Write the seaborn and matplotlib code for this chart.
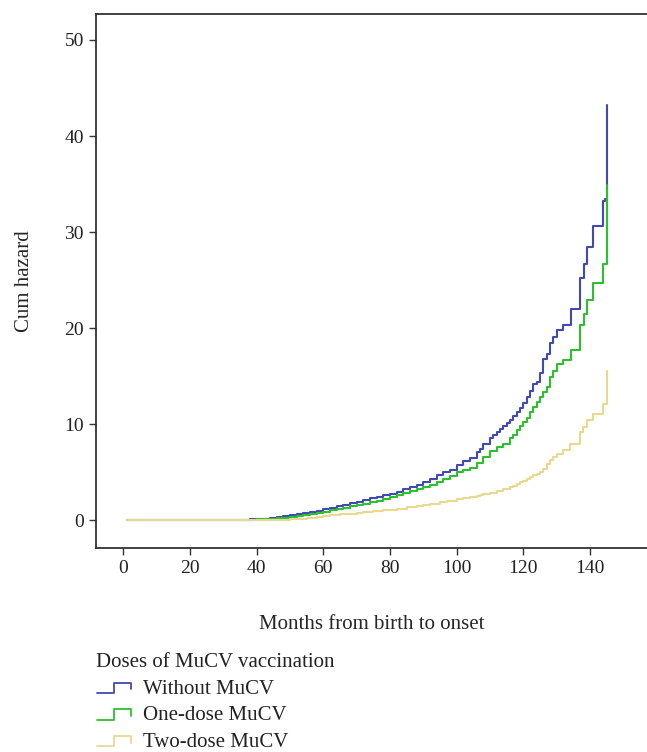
import numpy as np
import pandas as pd
import matplotlib
matplotlib.use("Agg")
import matplotlib.pyplot as plt
import seaborn as sns
from matplotlib.legend_handler import HandlerBase
from matplotlib.lines import Line2D

# ---- data ----
groups = ["Without MuCV", "One-dose MuCV", "Two-dose MuCV"]

t_without = [1, 35, 38, 40, 42, 44, 46, 48, 50, 52, 54, 56, 58, 60, 62, 64, 66, 68, 70, 72, 74, 76, 78,
             80, 82, 84, 86, 88, 90, 92, 94, 96, 98, 100, 102, 104, 106, 107, 108, 110, 111, 112, 113,
             114, 115, 116, 117, 118, 119, 120, 121, 122, 123, 124, 125, 126, 127, 128, 129, 130.2,
             132, 134.2, 137, 138.2, 139, 141, 144, 144.5, 145]
h_without = [0.03, 0.07, 0.12, 0.17, 0.2, 0.26, 0.33, 0.42, 0.52, 0.62, 0.78, 0.9, 1.03, 1.15, 1.3, 1.45,
             1.6, 1.78, 1.95, 2.1, 2.3, 2.45, 2.6, 2.8, 3.0, 3.3, 3.5, 3.7, 4.0, 4.3, 4.7, 5.0, 5.3, 5.8,
             6.2, 6.5, 7.1, 7.4, 8.0, 8.6, 8.9, 9.2, 9.5, 9.8, 10.1, 10.5, 10.9, 11.3, 11.7, 12.2, 12.8,
             13.5, 14.2, 14.4, 15.3, 16.8, 17.3, 18.5, 19.1, 19.8, 20.3, 22.0, 25.2, 26.7, 28.5, 30.6,
             33.2, 33.4, 43.2]

t_one = [1, 35, 40, 44, 46, 48, 50, 52, 54, 56, 58, 60, 62, 64, 66, 68, 70, 72, 74, 76, 78, 80, 82, 84,
         86, 88, 90, 92, 94, 96, 98, 100, 102, 104, 106, 108, 110, 112, 114, 116, 117, 118, 119, 120,
         121, 122, 123, 124, 125, 126, 127, 128, 129, 130.2, 132, 134.2, 137, 138.2, 139, 141, 144, 145]
h_one = [0.03, 0.06, 0.1, 0.15, 0.22, 0.3, 0.38, 0.46, 0.55, 0.68, 0.8, 0.92, 1.05, 1.15, 1.28, 1.45,
         1.6, 1.75, 1.9, 2.05, 2.25, 2.4, 2.6, 2.85, 3.05, 3.25, 3.45, 3.7, 4.0, 4.3, 4.6, 5.0, 5.3,
         5.5, 6.0, 6.6, 7.2, 7.6, 8.0, 8.6, 8.9, 9.4, 9.8, 10.2, 10.7, 11.3, 11.8, 12.3, 12.8, 13.4,
         13.9, 14.9, 15.6, 16.3, 16.7, 17.7, 20.3, 21.5, 22.9, 24.7, 26.7, 34.9]

t_two = [1, 35, 40, 45, 50, 55, 58, 60, 62, 65, 68, 70, 72, 75, 78, 80, 82, 85, 88, 90, 92, 95, 97,
         100, 102, 104, 106, 107, 108, 110, 112, 114, 116, 117, 118, 119, 120, 121, 122, 123, 124,
         125, 126, 127, 128, 129, 130, 132, 134, 137, 138, 139, 141, 144, 145]
h_two = [0.02, 0.04, 0.05, 0.08, 0.17, 0.28, 0.38, 0.45, 0.52, 0.62, 0.72, 0.8, 0.86, 0.97, 1.05,
         1.12, 1.2, 1.35, 1.5, 1.6, 1.7, 1.9, 2.0, 2.2, 2.3, 2.4, 2.5, 2.6, 2.75, 2.9, 3.1, 3.3, 3.5,
         3.6, 3.8, 3.95, 4.1, 4.3, 4.5, 4.7, 4.85, 5.0, 5.4, 5.9, 6.3, 6.6, 6.9, 7.3, 8.0, 9.2, 9.7,
         10.4, 11.1, 12.1, 15.6]

x_ticks = [0, 20, 40, 60, 80, 100, 120, 140]
y_ticks = [0, 10, 20, 30, 40, 50]

colors = {"Without MuCV": "#4149b5", "One-dose MuCV": "#2cc02c", "Two-dose MuCV": "#e8d991"}

df = pd.concat([
    pd.DataFrame({"month": t_without, "hazard": h_without, "group": groups[0]}),
    pd.DataFrame({"month": t_one, "hazard": h_one, "group": groups[1]}),
    pd.DataFrame({"month": t_two, "hazard": h_two, "group": groups[2]}),
], ignore_index=True)

sns.set_theme(style="ticks")
plt.rcParams["font.family"] = ["Liberation Serif", "DejaVu Serif"]
plt.rcParams["text.color"] = "#222222"

fig = plt.figure(figsize=(6.47, 7.52), dpi=100)
ax = fig.add_axes([95.7 / 647, 1 - 548.3 / 752, 1 - 95.7 / 647 + 0.002, (548.3 - 14) / 752])

sns.lineplot(data=df, x="month", y="hazard", hue="group", hue_order=groups, palette=colors,
             drawstyle="steps-post", estimator=None, linewidth=1.5, ax=ax, legend=False)

ax.set_xlim(-8.3, 157.5)
ax.set_ylim(-2.9, 52.7)
ax.set_xticks(x_ticks)
ax.set_yticks(y_ticks)
ax.tick_params(axis="both", labelsize=14, length=5, width=1.0, colors="#333333",
               labelcolor="#222222")
for side in ["left", "bottom", "top"]:
    ax.spines[side].set_linewidth(1.3)
    ax.spines[side].set_color("#333333")
ax.spines["right"].set_visible(False)
ax.set_xlabel("Months from birth to onset", fontsize=15, labelpad=27)
ax.set_ylabel("Cum hazard", fontsize=15, labelpad=22)


class StepHandler(HandlerBase):
    def create_artists(self, legend, orig_handle, xdescent, ydescent, width, height, fontsize, trans):
        x0 = -xdescent
        y0 = -ydescent
        xs = np.array([0.0, 0.5, 0.5, 1.0, 1.0]) * width + x0
        ys = np.array([0.05, 0.05, 0.75, 0.75, 0.3]) * height + y0
        ln = Line2D(xs, ys, color=orig_handle.get_color(), linewidth=1.3, transform=trans)
        return [ln]


handles = [Line2D([], [], color=colors[g]) for g in groups]
leg = fig.legend(handles, groups, handler_map={Line2D: StepHandler()},
                 loc="upper left", bbox_to_anchor=(96.5 / 647, 1 - 653 / 752),
                 frameon=False, fontsize=15, title="Doses of MuCV vaccination",
                 title_fontsize=15, alignment="left", handlelength=1.65, handletextpad=0.6,
                 labelspacing=0.34, borderpad=0, borderaxespad=0)

fig.savefig("out.png", dpi=100)
